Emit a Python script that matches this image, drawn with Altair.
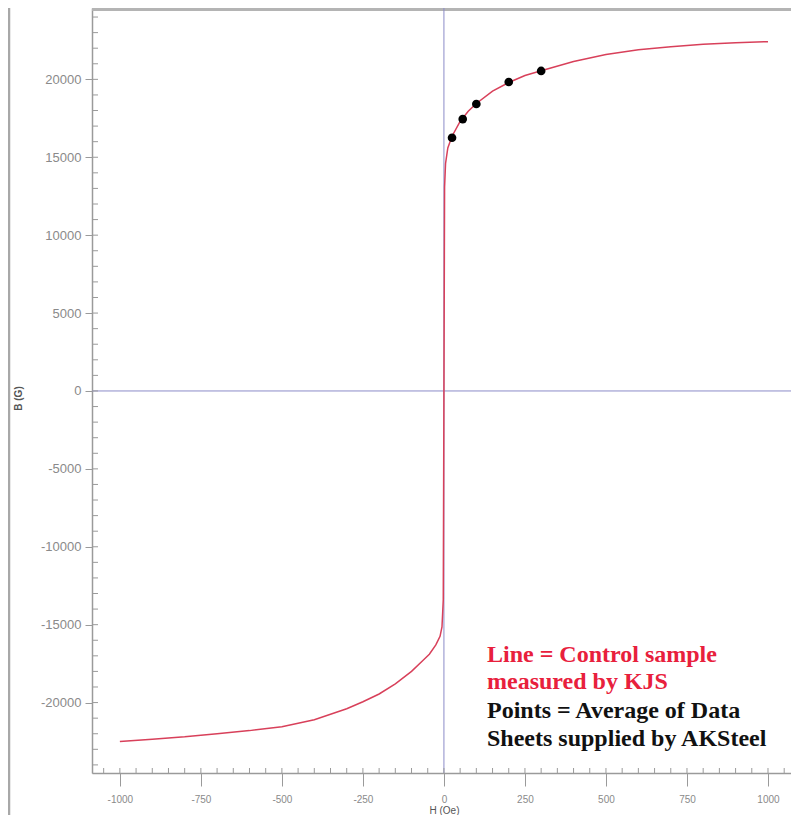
import altair as alt
import pandas as pd

# ---- data ----
H_line = [-1000, -900, -800, -700, -600, -500, -400, -300, -250, -200, -150, -100,
          -65, -45, -25, -12, -6, -2, 0, 2, 5, 12, 25, 50, 75, 100, 150, 200, 250,
          300, 400, 500, 600, 700, 800, 900, 1000]
B_line = [-22500, -22350, -22200, -22000, -21800, -21550, -21100, -20400, -19950,
          -19450, -18800, -18000, -17300, -16900, -16300, -15750, -15150, -13400,
          0, 13100, 14600, 15600, 16350, 17300, 17950, 18450, 19250, 19800, 20250,
          20550, 21150, 21600, 21900, 22100, 22250, 22350, 22420]
H_pts = [25, 58, 100, 200, 300]
B_pts = [16250, 17450, 18420, 19830, 20540]
x_major = [-1000, -750, -500, -250, 0, 250, 500, 750, 1000]
y_major = [-20000, -15000, -10000, -5000, 0, 5000, 10000, 15000, 20000]
x_minor = list(range(-1050, 1051, 50))
y_minor = list(range(-24000, 24001, 1000))
note_red = ["Line = Control sample", "measured by KJS"]
note_black = ["Points = Average of Data", "Sheets supplied by AKSteel"]

W, Ht = 699, 765
xs = alt.Scale(domain=[-1086, 1071], nice=False, zero=False)
ys = alt.Scale(domain=[-24520, 24580], nice=False, zero=False)

X = alt.X("H:Q", scale=xs, title="H (Oe)",
          axis=alt.Axis(values=x_major, labelExpr="toString(datum.value)", tickSize=13,
                        labelPadding=8, labelFontSize=10, labelColor="#8a8a8a",
                        labelFont="Liberation Sans",
                        domainColor="#9a9a9a", domainWidth=1.5, tickColor="#9a9a9a",
                        grid=False, titleFontSize=10, titleColor="#555555",
                        titleFont="Liberation Sans", titleFontWeight="normal",
                        titleX=352, titleY=37, titleBaseline="middle"))
Y = alt.Y("B:Q", scale=ys, title="B (G)",
          axis=alt.Axis(values=y_major, labelExpr="toString(datum.value)", tickSize=7,
                        labelPadding=4, labelFontSize=13, labelColor="#8a8a8a",
                        labelFont="Liberation Sans",
                        domainColor="#9a9a9a", domainWidth=1.5, tickColor="#9a9a9a",
                        grid=False, titleFontSize=10, titleColor="#555555",
                        titleFont="Liberation Sans", titleFontWeight="bold",
                        titleX=-74, titleY=390, titleBaseline="middle", titleAngle=270))

line_df = pd.DataFrame({"H": H_line, "B": B_line, "i": range(len(H_line))})
pts_df = pd.DataFrame({"H": H_pts, "B": B_pts})
xmin_df = pd.DataFrame({"H": x_minor})
ymin_df = pd.DataFrame({"B": y_minor})
zero_x = pd.DataFrame({"H": [0]})
zero_y = pd.DataFrame({"B": [0]})

frame_left = alt.Chart(zero_x).mark_rule(color="#a8a8a8", strokeWidth=2.5).encode(
    x=alt.value(-83), y=alt.value(0), y2=alt.value(807))
frame_top = alt.Chart(zero_x).mark_rule(color="#b4b4b4", strokeWidth=3).encode(
    x=alt.value(0), x2=alt.value(W), y=alt.value(1.5))

cross_v = alt.Chart(zero_x).mark_rule(color="#8c8cc8", strokeWidth=1).encode(x=X)
cross_h = alt.Chart(zero_y).mark_rule(color="#8c8cc8", strokeWidth=1).encode(y=Y)

xticks = alt.Chart(xmin_df).mark_rule(color="#9a9a9a", strokeWidth=1).encode(
    x=X, y=alt.value(Ht), y2=alt.value(Ht - 5))
yticks = alt.Chart(ymin_df).mark_rule(color="#9a9a9a", strokeWidth=1).encode(
    y=Y, x=alt.value(0), x2=alt.value(6))

curve = alt.Chart(line_df).mark_line(color="#d8405a", strokeWidth=1.5).encode(
    x=X, y=Y, order="i:Q")
points = alt.Chart(pts_df).mark_point(filled=True, color="#000000", size=75, opacity=1).encode(
    x=X, y=Y)

def note(txt, py, col):
    return alt.Chart(zero_x).mark_text(
        text=txt, align="left", baseline="middle", font="Liberation Serif",
        fontWeight="bold", fontSize=24, color=col).encode(
        x=alt.value(395), y=alt.value(py))

notes = [note(note_red[0], 647, "#e8203c"), note(note_red[1], 674, "#e8203c"),
         note(note_black[0], 703, "#111111"), note(note_black[1], 731, "#111111")]

chart = alt.layer(frame_left, frame_top, cross_v, cross_h, xticks, yticks, curve, points,
                  *notes).properties(
    width=W, height=Ht,
    autosize=alt.AutoSizeParams(type="none"),
    padding={"left": 84, "top": 0, "right": 0, "bottom": 42},
).configure_view(stroke="#d6d6d6", strokeWidth=1)

chart.save("out.html", embed_options={"renderer": "svg", "actions": False})
